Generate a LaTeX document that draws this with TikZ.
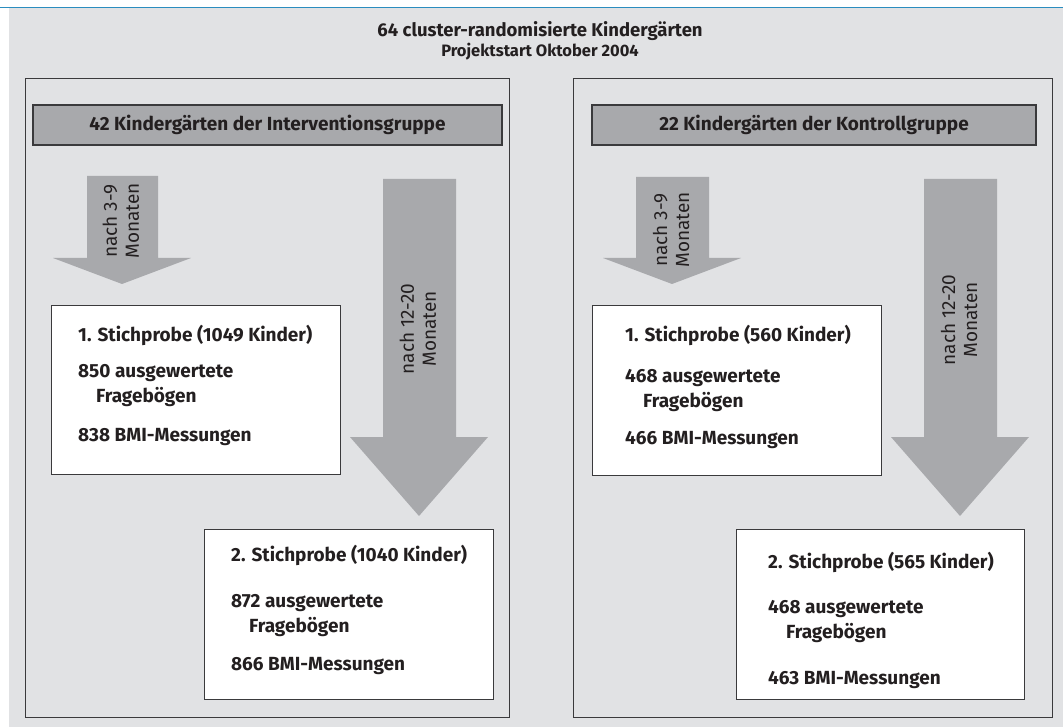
\documentclass[tikz,border=0pt]{standalone}
\usepackage{fontspec}
\setmainfont{Fira Sans}
\usetikzlibrary{positioning}

\definecolor{bggray}{HTML}{E1E2E4}
\definecolor{arrgray}{HTML}{A8A9AC}
\definecolor{edgegray}{HTML}{3A3A3C}
\definecolor{topblue}{HTML}{2A8DBF}
\definecolor{inkblack}{HTML}{231F20}

\begin{document}
\begin{tikzpicture}[x=1pt, y=-1pt,
    panel/.style={draw=edgegray, line width=1.3pt, anchor=north west, inner sep=0pt},
    header/.style={draw=edgegray, fill=arrgray, line width=1.3pt, text=inkblack,
        font=\bfseries\fontsize{19}{22}\selectfont, minimum height=40pt},
    sample/.style={draw=edgegray, fill=white, line width=1.2pt, anchor=north west,
        minimum width=289pt, minimum height=170pt, inner sep=0pt},
    entry/.style={anchor=west, inner sep=0pt, text=inkblack,
        font=\bfseries\fontsize{19}{22}\selectfont},
    turn/.style={rotate=90, align=center, inner sep=0pt, text=inkblack,
        font=\fontsize{19}{22}\selectfont}]

\useasboundingbox (0,0) rectangle (1063,727);
\fill[white] (0,0) rectangle (1063,727);
\fill[bggray] (9,8) rectangle (1063,727);
\draw[topblue, line width=1.6pt] (0,7.5) -- (1063,7.5);

% title
\node[text=inkblack, font=\bfseries\fontsize{18.5}{21}\selectfont] (title) at (540,31) {64 cluster-randomisierte Kindergärten};
\node[text=inkblack, font=\bfseries\fontsize{16.5}{19}\selectfont] (start) at (540,52) {Projektstart Oktober 2004};

% the two groups
\node[panel, minimum width=484pt, minimum height=639pt] (igroup) at (25,78) {};
\node[panel, minimum width=479pt, minimum height=639pt] (kgroup) at (573,78) {};

\node[header, minimum width=469pt] (ihead) at (267.5,125) {42 Kindergärten der Interventionsgruppe};
\node[header, minimum width=444pt] (khead) at (814,125) {22 Kindergärten der Kontrollgruppe};

% arrows
\fill[arrgray] (87,176) -- (158,176) -- (158,258) -- (191,258) -- (122,284) -- (53,258) -- (87,258) -- cycle;
\fill[arrgray] (383,179) -- (456,179) -- (456,437) -- (488,437) -- (419,516) -- (350,437) -- (383,437) -- cycle;
\fill[arrgray] (636,177) -- (709,177) -- (709,258) -- (741,258) -- (672,284) -- (603,258) -- (636,258) -- cycle;
\fill[arrgray] (924,179) -- (997,179) -- (997,437) -- (1029,437) -- (960,516) -- (891,437) -- (924,437) -- cycle;

\node[turn] (iwait1) at (121,221) {nach 3-9\\Monaten};
\node[turn] (iwait2) at (418,329) {nach 12-20\\Monaten};
\node[turn] (kwait1) at (671,230) {nach 3-9\\Monaten};
\node[turn] (kwait2) at (959,320) {nach 12-20\\Monaten};

% samples, intervention
\node[sample, minimum height=169pt] (ibox1) at (51,305) {};
\node[entry] (ibox1a) at (78,335) {1. Stichprobe (1049 Kinder)};
\node[entry] (ibox1b) at (78,373) {850 ausgewertete};
\node[entry] (ibox1c) at (96,397) {Fragebögen};
\node[entry] (ibox1d) at (78,437) {838 BMI-Messungen};

\node[sample] (ibox2) at (204,529) {};
\node[entry] (ibox2a) at (231,555) {2. Stichprobe (1040 Kinder)};
\node[entry] (ibox2b) at (231,603) {872 ausgewertete};
\node[entry] (ibox2c) at (249,627) {Fragebögen};
\node[entry] (ibox2d) at (231,666) {866 BMI-Messungen};

% samples, control
\node[sample] (kbox1) at (592,305) {};
\node[entry] (kbox1a) at (625,335) {1. Stichprobe (560 Kinder)};
\node[entry] (kbox1b) at (625,378) {468 ausgewertete};
\node[entry] (kbox1c) at (643,402) {Fragebögen};
\node[entry] (kbox1d) at (625,440) {466 BMI-Messungen};

\node[sample, minimum width=288pt] (kbox2) at (736,529) {};
\node[entry] (kbox2a) at (768,562) {2. Stichprobe (565 Kinder)};
\node[entry] (kbox2b) at (768,609) {468 ausgewertete};
\node[entry] (kbox2c) at (786,633) {Fragebögen};
\node[entry] (kbox2d) at (768,680) {463 BMI-Messungen};
\end{tikzpicture}
\end{document}
